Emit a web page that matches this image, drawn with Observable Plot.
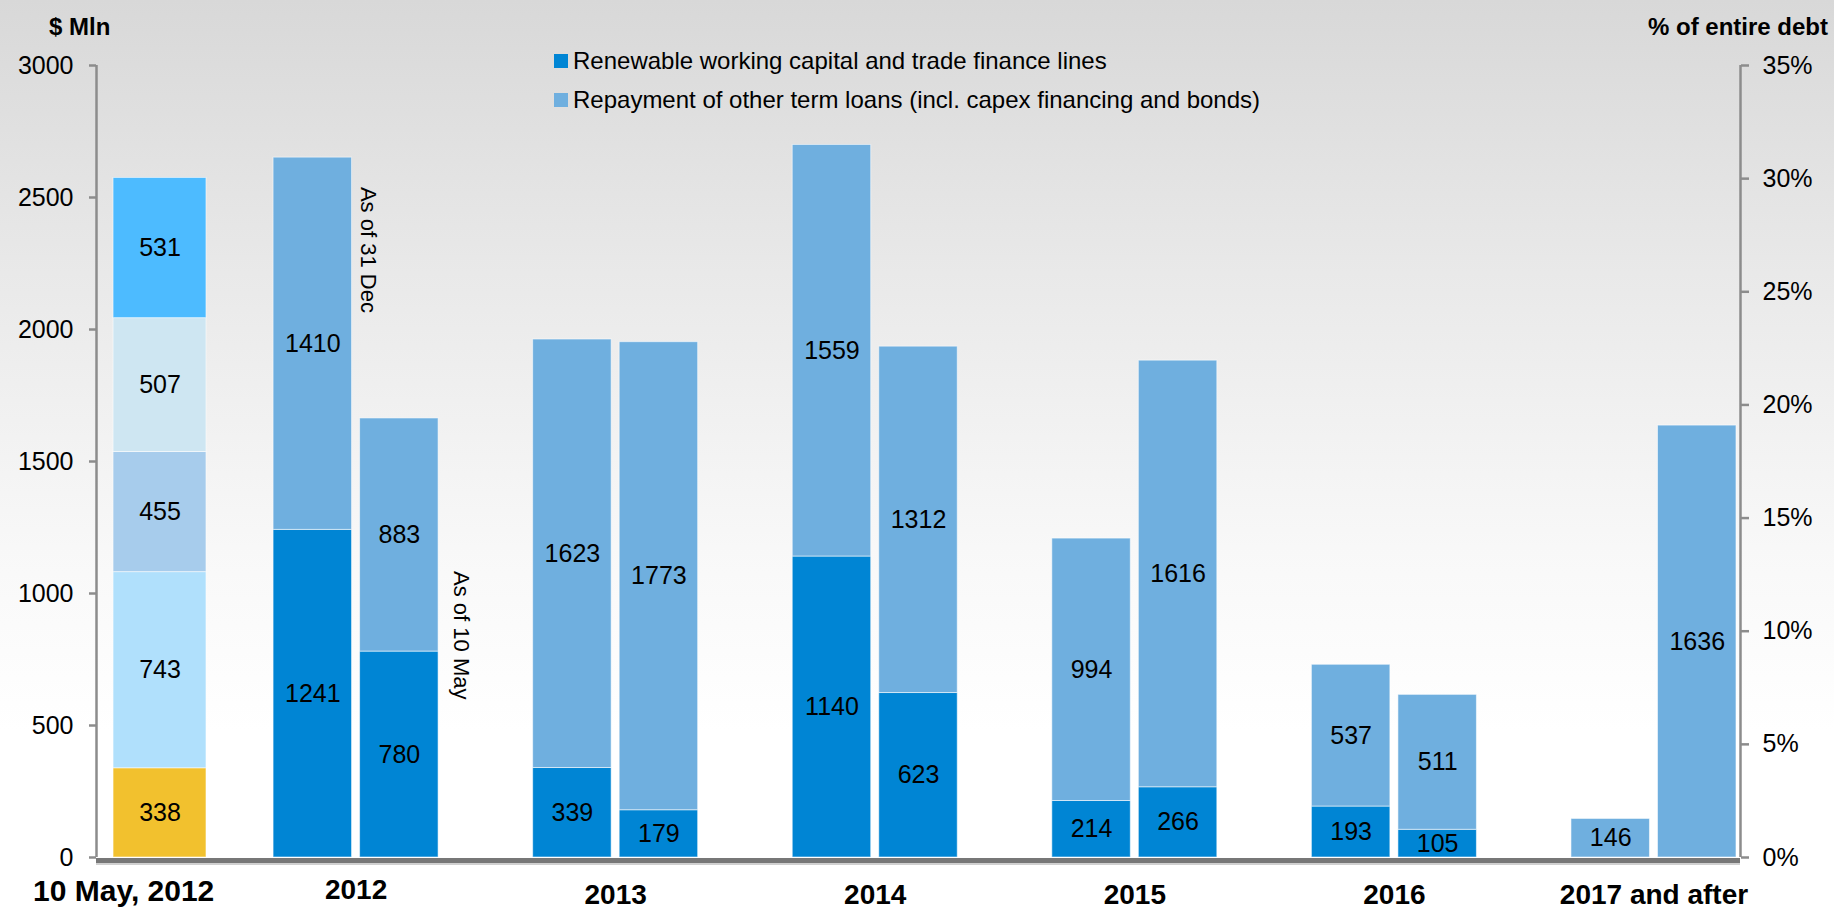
<!DOCTYPE html>
<html><head><meta charset="utf-8">
<script src="https://cdn.jsdelivr.net/npm/d3@7"></script>
<script src="https://cdn.jsdelivr.net/npm/@observablehq/plot@0.6"></script>
<style>
body{margin:0;}
#wrap{position:relative;width:1834px;height:912px;background:linear-gradient(to bottom,#d8d8d8 0%,#e9e9e9 30%,#f8f8f8 60%,#ffffff 80%,#ffffff 100%);font-family:"Liberation Sans",Arial,sans-serif;overflow:hidden}
#chart{position:absolute;left:0;top:0}
.legend{position:absolute;left:554px;top:41px;font-size:24px;color:#000}
.legend .row{display:flex;align-items:center;height:39px;white-space:nowrap}
.sw{width:14px;height:14px;margin-right:5px;flex:none}
.atitle{position:absolute;font-weight:bold;font-size:24px;color:#000;white-space:nowrap}
</style></head><body><div id="wrap"><div id="chart"></div></div>
<script>
// ---- data ----
const years = ["2012", "2013", "2014", "2015", "2016", "2017 and after"];
const renewableDec = [1241, 339, 1140, 214, 193, 0];
const otherDec = [1410, 1623, 1559, 994, 537, 146];
const renewableMay = [780, 179, 623, 266, 105, 0];
const otherMay = [883, 1773, 1312, 1616, 511, 1636];
const firstLabel = "10 May, 2012";
const firstValues = [338, 743, 455, 507, 531];
const firstColors = ["#f2c12e", "#b0e0fc", "#a7ccec", "#cee6f2", "#4dbbff"];
const series = ["Renewable working capital and trade finance lines", "Repayment of other term loans (incl. capex financing and bonds)"];
const seriesColors = ["#0085d4", "#6fafdf"];
const yTicks = [0, 500, 1000, 1500, 2000, 2500, 3000];
const pctTicks = [0, 5, 10, 15, 20, 25, 30, 35];
const annotations = [
  {text: "As of 31 Dec", year: "2012", bar: 0, at: 2540},
  {text: "As of 10 May", year: "2012", bar: 1, at: 1085}
];
const yTitle = "$ Mln";
const y2Title = "% of entire debt";

// ---- layout (slots) ----
const xDomain = [0, 19];
const half = 0.4535;
const firstCenter = 0.734, firstHalf = 0.537;
const groupCenter = i => 3 * (i + 1);
const barCenter = (i, k) => groupCenter(i) - 0.5 + k;

// ---- build segments ----
const segs = [];
{
  const tops = d3.cumsum(firstValues);
  firstValues.forEach((v, j) => segs.push({
    cx: firstCenter, hw: firstHalf, y1: tops[j] - v, y2: tops[j], v, color: firstColors[j]
  }));
}
years.forEach((yr, i) => {
  [[renewableDec[i], otherDec[i]], [renewableMay[i], otherMay[i]]].forEach((pair, k) => {
    const tops = d3.cumsum(pair);
    pair.forEach((v, s) => {
      if (v > 0) segs.push({cx: barCenter(i, k), hw: half, y1: tops[s] - v, y2: tops[s], v, color: seriesColors[s]});
    });
  });
});

const yearLabels = years.map((y, i) => ({label: y, cx: groupCenter(i), row: i === 0 ? 0 : 1}));
const firstCat = [{label: firstLabel, cx: firstCenter - 0.42}];

const ann = annotations.map(a => {
  const i = years.indexOf(a.year);
  return {...a, xr: barCenter(i, a.bar) + half};
});

const toPct = p => p * 3000 / 35;
const font = "'Liberation Sans', Arial, sans-serif";

const plot = Plot.plot({
  width: 1834,
  height: 912,
  marginLeft: 96,
  marginRight: 94,
  marginTop: 65,
  marginBottom: 55,
  style: {background: "transparent", fontFamily: font, overflow: "visible"},
  x: {domain: xDomain, axis: null},
  y: {domain: [0, 3000], axis: null},
  color: {type: "identity"},
  marks: [
    Plot.rect(segs, {x1: d => d.cx - d.hw, x2: d => d.cx + d.hw, y1: "y1", y2: "y2", fill: "color", stroke: "#ffffff", strokeOpacity: 0.55, strokeWidth: 1}),
    Plot.text(segs, {x: "cx", y: d => (d.y1 + d.y2) / 2, text: d => String(d.v), fontSize: 25, fill: "#000"}),
    Plot.axisY(yTicks, {anchor: "left", tickSize: 7, tickPadding: 16, fontSize: 25, stroke: "#8c8c8c", strokeWidth: 2.5, fill: "#000", label: null, tickFormat: d => String(d)}),
    Plot.axisY(pctTicks.map(toPct), {anchor: "right", tickSize: 8, fontSize: 25, stroke: "#8c8c8c", strokeWidth: 2.5, label: null, tickFormat: () => ""}),
    Plot.text(pctTicks, {x: () => xDomain[1], y: p => toPct(p), text: p => p + "%", textAnchor: "start", dx: 22, fontSize: 25, fill: "#000"}),
    Plot.ruleX([xDomain[0]], {y1: 0, y2: 3000, stroke: "#8c8c8c", strokeWidth: 2.5}),
    Plot.ruleX([xDomain[1]], {y1: 0, y2: 3000, stroke: "#8c8c8c", strokeWidth: 2.5}),
    Plot.ruleY([0], {stroke: "#d0d0d0", strokeWidth: 2, dy: 6.5}),
    Plot.ruleY([0], {stroke: "#777777", strokeWidth: 5, dy: 3}),
    Plot.text(firstCat, {x: "cx", text: "label", frameAnchor: "bottom", lineAnchor: "middle", dy: 34, fontSize: 30, fontWeight: "bold", fill: "#000"}),
    Plot.text(yearLabels.filter(d => d.row === 0), {x: "cx", text: "label", frameAnchor: "bottom", lineAnchor: "middle", dy: 33, fontSize: 28, fontWeight: "bold", fill: "#000"}),
    Plot.text(yearLabels.filter(d => d.row === 1), {x: "cx", text: "label", frameAnchor: "bottom", lineAnchor: "middle", dy: 38, fontSize: 28, fontWeight: "bold", fill: "#000"}),
    Plot.text(ann.filter(d => d.bar === 0), {x: "xr", y: "at", text: "text", rotate: 90, textAnchor: "start", dx: 16, fontSize: 22, fill: "#000"}),
    Plot.text(ann.filter(d => d.bar === 1), {x: "xr", y: "at", text: "text", rotate: 90, textAnchor: "start", dx: 22, fontSize: 22, fill: "#000"})
  ]
});
document.getElementById("chart").appendChild(plot);

// legend & axis titles
const wrap = document.getElementById("wrap");
const leg = document.createElement("div");
leg.className = "legend";
series.forEach((s, i) => {
  const r = document.createElement("div");
  r.className = "row";
  const sw = document.createElement("span");
  sw.className = "sw";
  sw.style.background = seriesColors[i];
  const t = document.createElement("span");
  t.textContent = s;
  r.appendChild(sw); r.appendChild(t);
  leg.appendChild(r);
});
wrap.appendChild(leg);
const t1 = document.createElement("div");
t1.className = "atitle"; t1.textContent = yTitle;
t1.style.left = "49px"; t1.style.top = "13px";
wrap.appendChild(t1);
const t2 = document.createElement("div");
t2.className = "atitle"; t2.textContent = y2Title;
t2.style.right = "6px"; t2.style.top = "13px";
wrap.appendChild(t2);
</script>
</body></html>
